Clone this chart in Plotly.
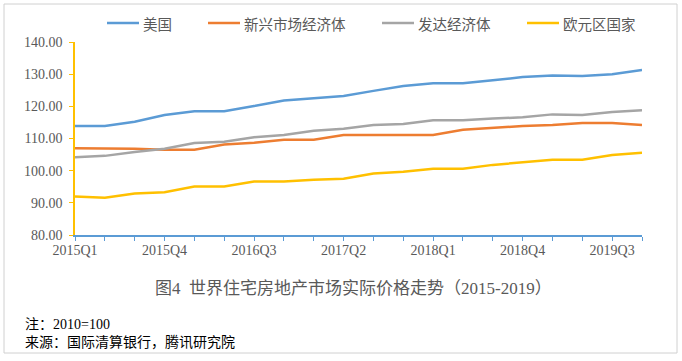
import plotly.graph_objects as go

quarters = [f"{y}Q{q}" for y in range(2015, 2020) for q in range(1, 5)]
tick_labels = ["2015Q1", "2015Q4", "2016Q3", "2017Q2", "2018Q1", "2018Q4", "2019Q3"]

us = [113.9, 113.9, 115.2, 117.3, 118.5, 118.5, 120.1, 121.8, 122.5, 123.2,
      124.8, 126.3, 127.2, 127.2, 128.1, 129.1, 129.6, 129.4, 130.0, 131.3]
emerging = [107.0, 107.0, 106.8, 106.5, 106.5, 108.1, 108.7, 109.6, 109.6, 111.1,
            111.1, 111.1, 111.1, 112.7, 113.3, 113.9, 114.2, 114.8, 114.8, 114.2]
developed = [104.2, 104.6, 105.8, 106.8, 108.6, 109.0, 110.4, 111.1, 112.4, 113.0,
             114.2, 114.5, 115.7, 115.7, 116.2, 116.6, 117.5, 117.3, 118.2, 118.8]
eurozone = [92.0, 91.6, 92.9, 93.3, 95.1, 95.1, 96.6, 96.6, 97.2, 97.5,
            99.1, 99.7, 100.6, 100.6, 101.8, 102.5, 103.4, 103.4, 104.9, 105.6]

series_names = ["美国", "新兴市场经济体", "发达经济体", "欧元区国家"]
series_values = [us, emerging, developed, eurozone]
series_colors = ["#5B9BD5", "#ED7D31", "#A5A5A5", "#FFC000"]

L, R, T, B = 75, 40, 42, 126
W, H = 682, 361
pw, ph = W - L - R, H - T - B

def px(x):
    return (x - L) / pw

def py(y):
    return (H - B - y) / ph

serif = "Liberation Serif, Times New Roman, serif"
cjk = "Noto Sans CJK SC, sans-serif"

fig = go.Figure()
for name, vals, color in zip(series_names, series_values, series_colors):
    fig.add_trace(go.Scatter(x=quarters, y=vals, name=name, mode="lines",
                             line=dict(color=color, width=2.5)))

# legend drawn as line keys + labels (pixel layout of the original legend row)
legend_left = [107, 208, 382, 527]
legend_y = 23
shapes = [dict(type="rect", xref="paper", yref="paper",
               x0=px(4), x1=px(677), y0=py(4), y1=py(353),
               line=dict(color="#D0D0D0", width=1), fillcolor="rgba(0,0,0,0)", layer="below")]
annotations = []
for name, color, lx in zip(series_names, series_colors, legend_left):
    shapes.append(dict(type="line", xref="paper", yref="paper",
                       x0=px(lx), x1=px(lx + 32), y0=py(legend_y), y1=py(legend_y),
                       line=dict(color=color, width=2.5)))
    annotations.append(dict(text=name, xref="paper", yref="paper",
                            x=px(lx + 34), y=py(legend_y), xanchor="left", yanchor="middle",
                            showarrow=False,
                            font=dict(family=cjk, size=14.5, color="#595959")))

annotations += [
    dict(text="图4  世界住宅房地产市场实际价格走势（2015-2019）", xref="paper", yref="paper",
         x=px(353), y=py(288), xanchor="center", yanchor="middle", showarrow=False,
         font=dict(family=serif + ", " + cjk, size=17, color="#595959")),
    dict(text="注：2010=100", xref="paper", yref="paper",
         x=px(23), y=py(324), xanchor="left", yanchor="middle", showarrow=False,
         font=dict(family=serif + ", " + cjk, size=14, color="black")),
    dict(text="来源：国际清算银行，腾讯研究院", xref="paper", yref="paper",
         x=px(23), y=py(342), xanchor="left", yanchor="middle", showarrow=False,
         font=dict(family=serif + ", " + cjk, size=14, color="black")),
]

fig.update_layout(
    width=W, height=H,
    margin=dict(l=L, r=R, t=T, b=B, autoexpand=False),
    paper_bgcolor="white", plot_bgcolor="white",
    showlegend=False,
    xaxis=dict(type="category", range=[0, len(quarters) - 1],
               tickmode="array", tickvals=quarters,
               ticktext=[q if q in tick_labels else "" for q in quarters],
               ticks="outside", ticklen=4, tickcolor="#5B9BD5",
               showline=True, linecolor="#5B9BD5", linewidth=1.5,
               showgrid=False, zeroline=False, automargin=False,
               ticklabelstandoff=-3,
               tickfont=dict(family=serif, size=14, color="#595959")),
    yaxis=dict(range=[80, 140], dtick=10, tickformat=".2f",
               ticks="outside", ticklen=4, tickcolor="#FFC000",
               showline=True, linecolor="#FFC000", linewidth=1.5,
               showgrid=False, zeroline=False, automargin=False,
               ticklabelstandoff=4,
               tickfont=dict(family=serif, size=14, color="#595959")),
    shapes=shapes,
    annotations=annotations,
)

fig.write_html("out.html", config={"displayModeBar": False},
               post_script="document.body.style.margin='0';document.body.style.overflow='hidden';")
